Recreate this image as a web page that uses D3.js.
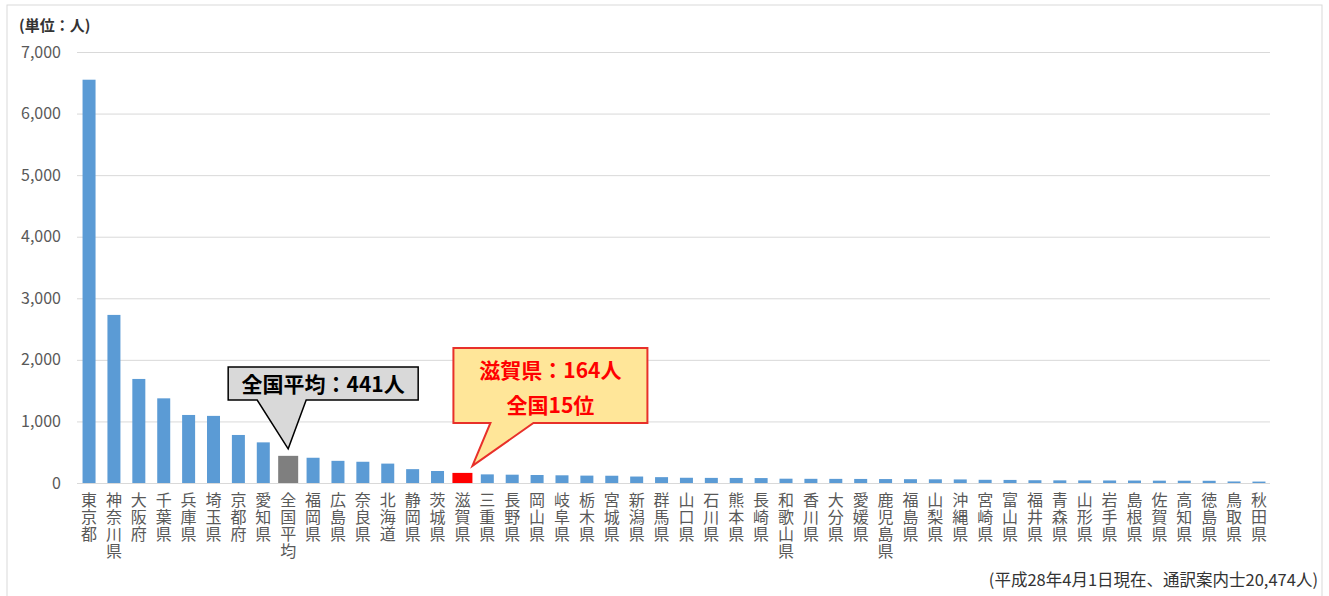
<!DOCTYPE html>
<html>
<head>
<meta charset="utf-8">
<script src="https://cdn.jsdelivr.net/npm/d3@7"></script>
<style>
  body { margin: 0; background: #fff; }
  svg text { font-family: "Noto Sans CJK JP", "Noto Sans", sans-serif; }
</style>
</head>
<body>
<div id="chart"></div>
<script>
// prefectures in ranking order, 全国平均 inserted after 愛知県
const categories = ["東京都","神奈川県","大阪府","千葉県","兵庫県","埼玉県","京都府","愛知県","全国平均",
  "福岡県","広島県","奈良県","北海道","静岡県","茨城県","滋賀県","三重県","長野県","岡山県","岐阜県",
  "栃木県","宮城県","新潟県","群馬県","山口県","石川県","熊本県","長崎県","和歌山県","香川県","大分県",
  "愛媛県","鹿児島県","福島県","山梨県","沖縄県","宮崎県","富山県","福井県","青森県","山形県","岩手県",
  "島根県","佐賀県","高知県","徳島県","鳥取県","秋田県"]
const values = [6550,2730,1690,1375,1105,1090,780,660,441,
  410,360,345,315,225,195,164,140,135,130,125,
  120,118,105,95,85,83,82,80,70,68,67,
  66,64,62,60,58,52,50,45,43,42,41,
  40,38,37,36,25,23]
const yTicks = [0,1000,2000,3000,4000,5000,6000,7000]
const avgName = "全国平均"
const shigaName = "滋賀県"

const width = 1329, height = 596

const svg = d3.select("#chart").append("svg")
    .attr("width", width)
    .attr("height", height)

// outer frame
svg.append("rect")
    .attr("x", 7).attr("y", 5)
    .attr("width", 1315).attr("height", 600)
    .attr("fill", "none")
    .attr("stroke", "#d9d9d9")

const x = d3.scaleBand()
    .domain(categories)
    .range([76.6, 1271.4])
    .padding(0)

const y = d3.scaleLinear()
    .domain([0, 7000])
    .range([483, 52])

// grid + y labels
const yAxis = d3.axisLeft(y)
    .tickValues(yTicks)
    .tickFormat(d3.format(","))
    .tickSize(-(1270 - 77))
    .tickPadding(16)

svg.append("g")
    .attr("transform", "translate(77,0)")
    .call(yAxis)
    .call(g => g.select(".domain").remove())
    .call(g => g.selectAll(".tick line").attr("stroke", "#d9d9d9").attr("stroke-width", 1))
    .call(g => g.selectAll(".tick text")
        .attr("fill", "#595959")
        .style("font-size", "16px"))

svg.append("text")
    .attr("x", 19).attr("y", 31)
    .attr("fill", "#333")
    .style("font-size", "15px")
    .style("font-weight", "bold")
    .text("(単位：人)")

// bars
const data = categories.map((c, i) => ({name: c, value: values[i]}))
const barW = d => (d.name == avgName || d.name == shigaName) ? 20 : 13

svg.append("g")
    .selectAll("rect")
    .data(data)
    .enter()
    .append("rect")
    .attr("x", d => x(d.name) + x.bandwidth() / 2 - barW(d) / 2)
    .attr("y", d => y(d.value))
    .attr("width", barW)
    .attr("height", d => y(0) - y(d.value))
    .attr("fill", d => d.name == avgName ? "#7f7f7f" : (d.name == shigaName ? "#ff0000" : "#5b9bd5"))

// x labels, written vertically
svg.append("g")
    .selectAll("text")
    .data(categories)
    .enter()
    .append("text")
    .attr("x", d => x(d) + x.bandwidth() / 2)
    .attr("y", 492)
    .attr("fill", "#595959")
    .style("writing-mode", "vertical-rl")
    .style("text-orientation", "upright")
    .style("letter-spacing", "1px")
    .style("font-size", "16px")
    .text(d => d)

// callout: national average
const avgX = x(avgName) + x.bandwidth() / 2
const avgTop = y(values[categories.indexOf(avgName)])
svg.append("path")
    .attr("d", `M${avgX - 60},367 H${avgX + 130} V400 H${avgX + 18} L${avgX},${avgTop - 7} L${avgX - 31},400 H${avgX - 60} Z`)
    .attr("fill", "#d9d9d9")
    .attr("stroke", "#000")
    .attr("stroke-width", 1.5)

svg.append("text")
    .attr("x", avgX + 35).attr("y", 392)
    .attr("text-anchor", "middle")
    .attr("fill", "#000")
    .style("font-size", "21px")
    .style("font-weight", "bold")
    .text("全国平均：441人")

// callout: Shiga
const shX = x(shigaName) + x.bandwidth() / 2
const shTop = y(values[categories.indexOf(shigaName)])
svg.append("path")
    .attr("d", `M${shX - 9},348 H${shX + 185} V423 H${shX + 71} L${shX + 10},${shTop - 7} L${shX + 28},423 H${shX - 9} Z`)
    .attr("fill", "#ffe699")
    .attr("stroke", "#e8302a")
    .attr("stroke-width", 2)

svg.append("text")
    .attr("x", shX + 88).attr("y", 378)
    .attr("text-anchor", "middle")
    .attr("fill", "#ff0000")
    .style("font-size", "21px")
    .style("font-weight", "bold")
    .text("滋賀県：164人")

svg.append("text")
    .attr("x", shX + 88).attr("y", 413)
    .attr("text-anchor", "middle")
    .attr("fill", "#ff0000")
    .style("font-size", "21px")
    .style("font-weight", "bold")
    .text("全国15位")

// footnote
svg.append("text")
    .attr("x", 1318).attr("y", 586)
    .attr("text-anchor", "end")
    .attr("fill", "#333")
    .style("font-size", "16.5px")
    .text("(平成28年4月1日現在、通訳案内士20,474人)")
</script>
</body>
</html>
